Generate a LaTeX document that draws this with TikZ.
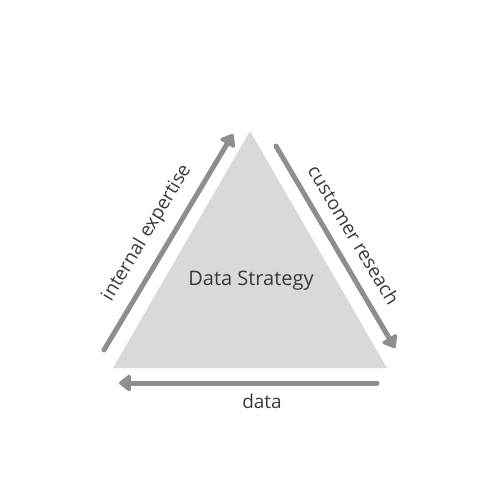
\documentclass[tikz,border=0pt]{standalone}
\usepackage{fontspec}
\setmainfont{Open Sans}
\usetikzlibrary{arrows.meta}
\definecolor{trifill}{HTML}{D9D9D9}
\definecolor{arrgray}{HTML}{8E8E8E}
\definecolor{txtgray}{HTML}{3A3A3A}
\begin{document}
\begin{tikzpicture}[x=1pt,y=-1pt,
  flow/.style={draw=arrgray,line width=5pt,line cap=round,
    -{Triangle[length=13pt,width=19pt,round]}},
  lbl/.style={text=txtgray,font=\fontsize{19}{22}\selectfont,inner sep=0pt}]
\useasboundingbox (0,0) rectangle (500,500);
\fill[white] (0,0) rectangle (500,500);
\coordinate (A) at (250,131);
\coordinate (B) at (113,368);
\coordinate (C) at (387,368);
\fill[trifill] (A) -- (B) -- (C) -- cycle;
\coordinate (l1) at (104,350);
\coordinate (l2) at (233,134);
\coordinate (r1) at (276,146);
\coordinate (r2) at (395,348);
\coordinate (b1) at (377,383);
\coordinate (b2) at (119,383);
\draw[flow] (l1) -- (l2);
\draw[flow] (r1) -- (r2);
\draw[flow] (b1) -- (b2);
\node[lbl,font=\fontsize{20}{24}\selectfont] (center) at (251,281) {Data Strategy};
\node[lbl,rotate=59] (ie) at (147,233) {internal expertise};
\node[lbl,rotate=-59] (cr) at (354,235) {customer reseach};
\node[lbl] (data) at (262,401) {data};
\end{tikzpicture}
\end{document}
